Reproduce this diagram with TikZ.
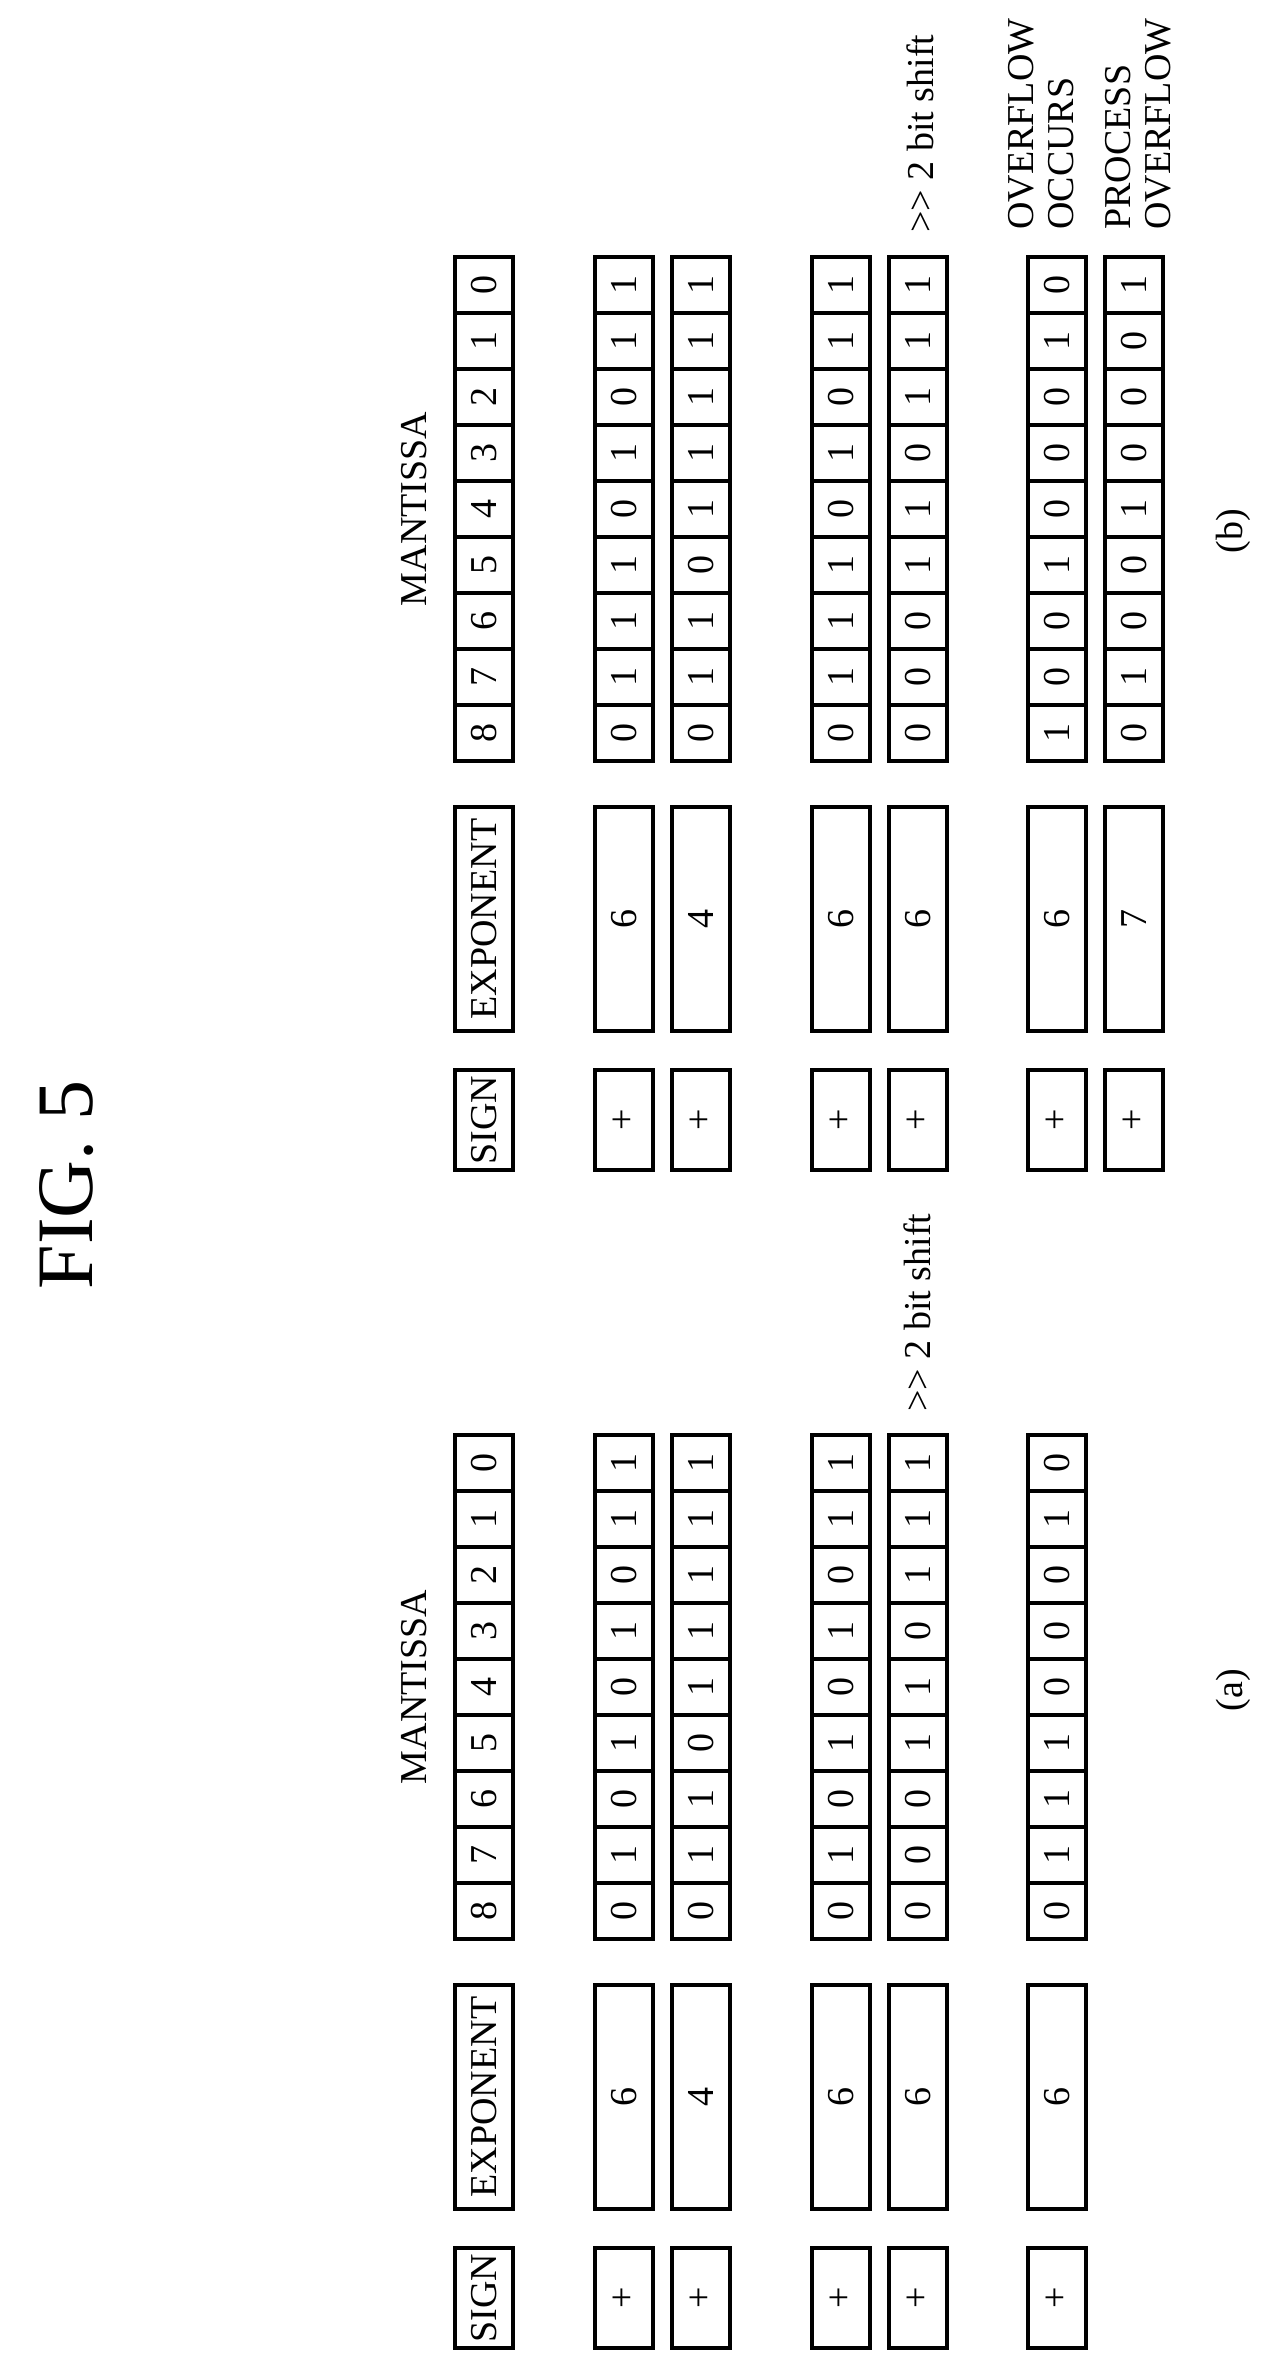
\documentclass[tikz,border=0pt]{standalone}
\usepackage{fontspec}
\setmainfont{Liberation Serif}
\usetikzlibrary{positioning}

% one floating point row: name, x, top of mantissa, sign, exponent, bits 8..0
\newcommand{\fprow}[6]{%
  \node[field, minimum width=50pt] (#1-sign) at (#2,#3+863) {#4};
  \node[field, minimum width=112pt] (#1-exp) at (#2,#3+662) {#5};
  \foreach \b [count=\k from 0] in {#6} {
    \node[field, minimum width=28pt] (#1-m\k) at (#2,#3+476-\k*56) {\b};
  }
}

\begin{document}
\begin{tikzpicture}[x=0.5pt,y=-0.5pt,
  field/.style={draw, line width=1.7pt, rectangle, rotate=90,
    minimum height=29pt, inner sep=0pt, font=\fontsize{19}{20}\selectfont},
  note/.style={rotate=90, inner sep=0pt, align=left,
    font=\fontsize{19}{20}\selectfont}]
  \useasboundingbox (0,0) rectangle (1279,2369);

  \node[rotate=90, font=\fontsize{40}{44}\selectfont] (title) at (67,1185) {FIG. 5};

  % (a)
  \node[note] (mant-a) at (414,1687) {MANTISSA};
  \fprow{ha}{484}{1435}{SIGN}{EXPONENT}{8,7,6,5,4,3,2,1,0}
  \fprow{a1}{624}{1435}{+}{6}{0,1,0,1,0,1,0,1,1}
  \fprow{a2}{701}{1435}{+}{4}{0,1,1,0,1,1,1,1,1}
  \fprow{a3}{841}{1435}{+}{6}{0,1,0,1,0,1,0,1,1}
  \fprow{a4}{918}{1435}{+}{6}{0,0,0,1,1,0,1,1,1}
  \fprow{a5}{1057}{1435}{+}{6}{0,1,1,1,0,0,0,1,0}
  \node[note, anchor=west] (shift-a) at (917,1412) {{>}{>} 2 bit shift};
  \node[note] (lab-a) at (1233,1690) {(a)};

  % (b)
  \node[note] (mant-b) at (414,509) {MANTISSA};
  \fprow{hb}{484}{257}{SIGN}{EXPONENT}{8,7,6,5,4,3,2,1,0}
  \fprow{b1}{624}{257}{+}{6}{0,1,1,1,0,1,0,1,1}
  \fprow{b2}{701}{257}{+}{4}{0,1,1,0,1,1,1,1,1}
  \fprow{b3}{841}{257}{+}{6}{0,1,1,1,0,1,0,1,1}
  \fprow{b4}{918}{257}{+}{6}{0,0,0,1,1,0,1,1,1}
  \fprow{b5}{1057}{257}{+}{6}{1,0,0,1,0,0,0,1,0}
  \fprow{b6}{1134}{257}{+}{7}{0,1,0,0,1,0,0,0,1}
  \node[note, anchor=west] (shift-b) at (920,233) {{>}{>} 2 bit shift};
  \node[note, anchor=north west] (ovf) at (1008,230) {OVERFLOW\\OCCURS};
  \node[note, anchor=north west] (proc) at (1105,230) {PROCESS\\OVERFLOW};
  \node[note] (lab-b) at (1233,531) {(b)};
\end{tikzpicture}
\end{document}
